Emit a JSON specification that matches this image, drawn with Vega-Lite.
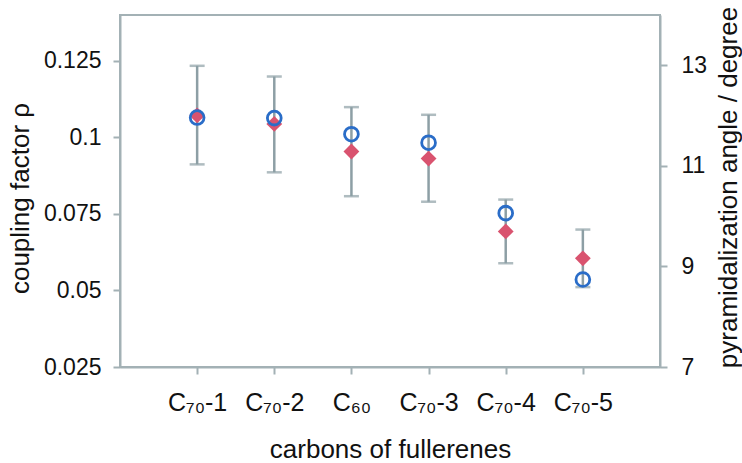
{
  "$schema": "https://vega.github.io/schema/vega-lite/v6.json",
  "width": 540,
  "height": 352,
  "autosize": {"type": "none"},
  "padding": {"left": 120, "top": 15, "right": 82, "bottom": 96},
  "background": "white",
  "config": {
    "font": "Liberation Sans",
    "view": {"stroke": "#a3b1b5", "strokeWidth": 2},
    "axis": {
      "grid": false,
      "domainColor": "#a3b1b5",
      "domainWidth": 2,
      "tickColor": "#a3b1b5",
      "tickWidth": 2,
      "tickSize": 7,
      "labelColor": "#111111",
      "titleColor": "#111111",
      "labelFont": "Liberation Sans",
      "titleFont": "Liberation Sans",
      "titleFontWeight": "normal"
    }
  },
  "data": {
    "values": [
      {"fullerene": "C₇₀-1", "rho": 0.1072, "rho_lo": 0.0912, "rho_hi": 0.1234, "angle": 11.96},
      {"fullerene": "C₇₀-2", "rho": 0.1044, "rho_lo": 0.0886, "rho_hi": 0.1199, "angle": 11.95},
      {"fullerene": "C₆₀", "rho": 0.0954, "rho_lo": 0.0808, "rho_hi": 0.1099, "angle": 11.63},
      {"fullerene": "C₇₀-3", "rho": 0.0931, "rho_lo": 0.079, "rho_hi": 0.1074, "angle": 11.46},
      {"fullerene": "C₇₀-4", "rho": 0.0693, "rho_lo": 0.0589, "rho_hi": 0.0797, "angle": 10.06},
      {"fullerene": "C₇₀-5", "rho": 0.0605, "rho_lo": 0.0511, "rho_hi": 0.0699, "angle": 8.74}
    ]
  },
  "encoding": {
    "x": {
      "field": "fullerene",
      "type": "nominal",
      "sort": null,
      "scale": {"type": "point", "padding": 1},
      "axis": {
        "title": "carbons of fullerenes",
        "labelFontSize": 25,
        "titleFontSize": 26,
        "labelAngle": 0,
        "labelBaseline": "alphabetic",
        "labelPadding": 36,
        "labelDx": 7,
        "titleY": 90,
        "titleBaseline": "alphabetic"
      }
    }
  },
  "layer": [
    {
      "layer": [
        {
          "mark": {"type": "rule", "color": "#8d9fa5", "strokeWidth": 2.5},
          "encoding": {
            "y": {
              "field": "rho_lo",
              "type": "quantitative",
              "title": "coupling factor ρ",
              "scale": {"domain": [0.025, 0.14], "nice": false, "zero": false},
              "axis": {
                "title": "coupling factor ρ",
                "values": [0.025, 0.05, 0.075, 0.1, 0.125],
                "format": ".3~f",
                "labelFontSize": 23,
                "titleFontSize": 26,
                "labelPadding": 12,
                "titleX": -100,
                "titleY": 183,
                "titleAngle": 270,
                "titleBaseline": "middle",
                "titleAlign": "center"
              }
            },
            "y2": {"field": "rho_hi"}
          }
        },
        {
          "mark": {"type": "tick", "color": "#8d9fa5", "thickness": 2.5, "size": 15, "orient": "horizontal"},
          "encoding": {"y": {"field": "rho_hi", "type": "quantitative", "title": "coupling factor ρ"}}
        },
        {
          "mark": {"type": "tick", "color": "#8d9fa5", "thickness": 2.5, "size": 15, "orient": "horizontal"},
          "encoding": {"y": {"field": "rho_lo", "type": "quantitative", "title": "coupling factor ρ"}}
        },
        {
          "mark": {"type": "point", "shape": "diamond", "filled": true, "size": 250, "color": "#d9536f", "opacity": 1},
          "encoding": {"y": {"field": "rho", "type": "quantitative", "title": "coupling factor ρ"}}
        }
      ]
    },
    {
      "mark": {"type": "point", "shape": "circle", "filled": false, "size": 190, "color": "#2a6dc8", "strokeWidth": 2.8, "opacity": 1},
      "encoding": {
        "y": {
          "field": "angle",
          "type": "quantitative",
          "title": "pyramidalization angle / degree",
          "scale": {"domain": [7, 14], "nice": false, "zero": false},
          "axis": {
            "orient": "right",
            "title": "pyramidalization angle / degree",
            "values": [7, 9, 11, 13],
            "labelFontSize": 23,
            "titleFontSize": 26,
            "labelPadding": 14,
            "titleX": 68,
            "titleY": 172,
            "titleAngle": 270,
            "titleBaseline": "middle",
            "titleAlign": "center"
          }
        }
      }
    }
  ],
  "resolve": {"scale": {"y": "independent"}, "axis": {"y": "independent"}}
}
